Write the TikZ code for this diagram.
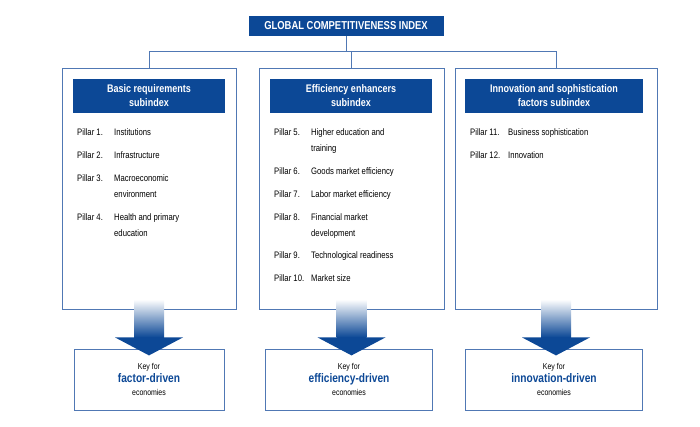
\documentclass[tikz,border=0pt]{standalone}
\usepackage{fontspec}
\setmainfont{Liberation Sans}[FakeStretch=0.82]
\usetikzlibrary{positioning}
\definecolor{gcblue}{RGB}{12,72,150}
\definecolor{gcline}{RGB}{80,120,180}
\tikzset{
  titlebox/.style={fill=gcblue,text=white,font=\bfseries\fontsize{11}{14}\selectfont,inner sep=0pt,align=center},
  colbox/.style={draw=gcline,line width=0.8pt,inner sep=0pt},
  pillar/.style={anchor=north west,font=\fontsize{9.4}{16}\selectfont,inner sep=0pt,align=left},
  keybox/.style={draw=gcline,line width=0.8pt,fill=white,align=center,inner sep=0pt},
}
\newcommand{\keytext}[1]{{\fontsize{8.5}{10}\selectfont Key for}\\[1pt]{\color{gcblue}\bfseries\fontsize{12.4}{14}\selectfont #1}\\[1pt]{\fontsize{8.5}{10}\selectfont economies}}
\begin{document}
\begin{tikzpicture}[x=1pt,y=-1pt]
\useasboundingbox (0,0) rectangle (700,426);
% top index and links
\node[titlebox,font=\bfseries\fontsize{11.5}{14}\selectfont,minimum width=195pt,minimum height=20pt] (gci) at (346,26) {GLOBAL COMPETITIVENESS INDEX};
\node[colbox,minimum width=174pt,minimum height=241pt] (basic) at (149,188.5) {};
\node[colbox,minimum width=185pt,minimum height=241pt] (eff) at (351.5,188.5) {};
\node[colbox,minimum width=202pt,minimum height=241pt] (inno) at (556,188.5) {};
\coordinate (split) at (346,51);
\draw[gcline,line width=0.8pt] (gci.south) -- (split);
\draw[gcline,line width=0.8pt] (basic.north) -- (basic.north |- split) -- (inno.north |- split) -- (inno.north);
\draw[gcline,line width=0.8pt] (eff.north |- split) -- (eff.north);
% subindex headers
\node[titlebox,minimum width=152pt,minimum height=34pt] (hbasic) at (149,96) {Basic requirements\\subindex};
\node[titlebox,minimum width=162pt,minimum height=34pt] (heff) at (351,96) {Efficiency enhancers\\subindex};
\node[titlebox,minimum width=178pt,minimum height=34pt] (hinno) at (554,96) {Innovation and sophistication\\factors subindex};
% pillars
\node[pillar] (p1) at (77,128) {Pillar 1.};  \node[pillar] (t1) at (114,128) {Institutions};
\node[pillar] (p2) at (77,151) {Pillar 2.};  \node[pillar] (t2) at (114,151) {Infrastructure};
\node[pillar] (p3) at (77,174) {Pillar 3.};  \node[pillar] (t3) at (114,174) {Macroeconomic\\environment};
\node[pillar] (p4) at (77,213) {Pillar 4.};  \node[pillar] (t4) at (114,213) {Health and primary\\education};
\node[pillar] (p5) at (274,128) {Pillar 5.};  \node[pillar] (t5) at (311,128) {Higher education and\\training};
\node[pillar] (p6) at (274,167) {Pillar 6.};  \node[pillar] (t6) at (311,167) {Goods market efficiency};
\node[pillar] (p7) at (274,190) {Pillar 7.};  \node[pillar] (t7) at (311,190) {Labor market efficiency};
\node[pillar] (p8) at (274,213) {Pillar 8.};  \node[pillar] (t8) at (311,213) {Financial market\\development};
\node[pillar] (p9) at (274,251) {Pillar 9.};  \node[pillar] (t9) at (311,251) {Technological readiness};
\node[pillar] (p10) at (274,274) {Pillar 10.}; \node[pillar] (t10) at (311,274) {Market size};
\node[pillar] (p11) at (470,128) {Pillar 11.}; \node[pillar] (t11) at (508,128) {Business sophistication};
\node[pillar] (p12) at (470,151) {Pillar 12.}; \node[pillar] (t12) at (508,151) {Innovation};
% key boxes
\node[keybox,minimum width=150pt,minimum height=61pt] (kbasic) at (149,379.5) {\keytext{factor-driven}};
\node[keybox,minimum width=167pt,minimum height=61pt] (keff) at (349,379.5) {\keytext{efficiency-driven}};
\node[keybox,minimum width=177pt,minimum height=61pt] (kinno) at (554,379.5) {\keytext{innovation-driven}};
% arrows
\foreach \c in {basic,eff,inno} {
  \path (\c.south) coordinate (a);
  \shade[top color=white,bottom color=gcblue] ([xshift=-15pt,yshift=10pt]a) rectangle ([xshift=15pt,yshift=-28pt]a);
  \fill[gcblue] ([xshift=-34pt,yshift=-28pt]a) -- ([xshift=34pt,yshift=-28pt]a) -- ([yshift=-46pt]a) -- cycle;
}
\end{tikzpicture}
\end{document}
